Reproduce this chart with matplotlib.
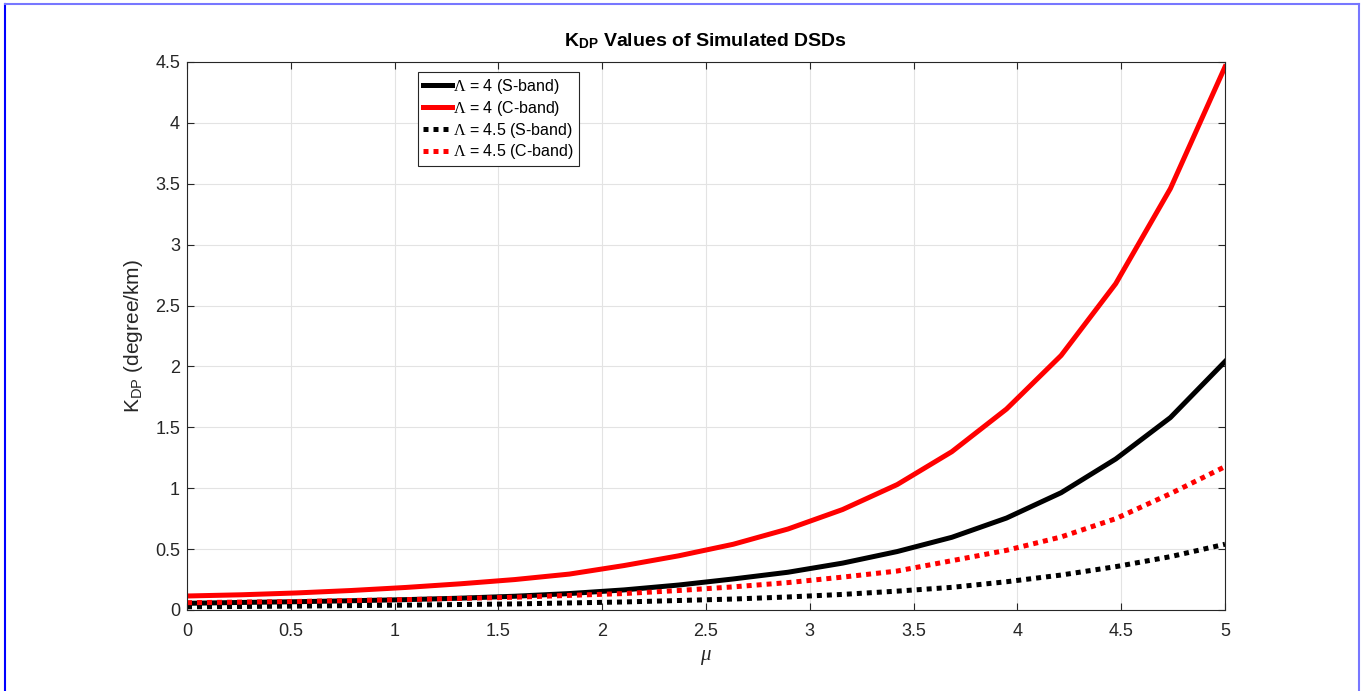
import numpy as np
import matplotlib
matplotlib.use('Agg')
import matplotlib.pyplot as plt
from matplotlib.lines import Line2D

plt.rcParams['font.family'] = ['Liberation Sans', 'DejaVu Sans']
plt.rcParams['mathtext.fontset'] = 'custom'
plt.rcParams['mathtext.rm'] = 'Liberation Serif'
plt.rcParams['mathtext.it'] = 'Liberation Serif:italic'
plt.rcParams['mathtext.bf'] = 'Liberation Sans:bold'
plt.rcParams['mathtext.sf'] = 'Liberation Sans'

# 数据
mu = np.linspace(0, 5, 20)
kdp_s_40 = [0.055, 0.062, 0.068, 0.076, 0.085, 0.097, 0.113, 0.135, 0.165, 0.205,
            0.255, 0.31, 0.385, 0.48, 0.597, 0.755, 0.963, 1.24, 1.58, 2.04]
kdp_c_40 = [0.115, 0.125, 0.14, 0.16, 0.185, 0.215, 0.25, 0.295, 0.365, 0.445,
            0.54, 0.665, 0.825, 1.03, 1.30, 1.65, 2.09, 2.68, 3.46, 4.46]
kdp_s_45 = [0.027, 0.029, 0.032, 0.036, 0.04, 0.045, 0.05, 0.058, 0.066, 0.078,
            0.09, 0.107, 0.128, 0.155, 0.186, 0.232, 0.287, 0.356, 0.438, 0.54]
kdp_c_45 = [0.06, 0.065, 0.07, 0.078, 0.085, 0.095, 0.105, 0.12, 0.135, 0.16,
            0.19, 0.225, 0.27, 0.32, 0.405, 0.49, 0.60, 0.75, 0.955, 1.177]
labels = [r'$\Lambda$ = 4 (S-band)', r'$\Lambda$ = 4 (C-band)',
          r'$\Lambda$ = 4.5 (S-band)', r'$\Lambda$ = 4.5 (C-band)']

fig = plt.figure(figsize=(13.68, 6.91), dpi=100)
ax = fig.add_axes([187/1368, 81/691, 1038/1368, 548/691])

lw = 3.6
ax.plot(mu, kdp_s_40, color='k', lw=lw, label=labels[0])
ax.plot(mu, kdp_c_40, color='r', lw=lw, label=labels[1])
ax.plot(mu, kdp_s_45, color='k', lw=lw, ls=(0, (1, 1)), dash_capstyle='butt', label=labels[2])
ax.plot(mu, kdp_c_45, color='r', lw=lw, ls=(0, (1, 1)), dash_capstyle='butt', label=labels[3])

ax.set_xlim(0, 5)
ax.set_ylim(0, 4.5)
ax.set_xticks(np.arange(0, 5.01, 0.5))
ax.set_yticks(np.arange(0, 4.51, 0.5))
ax.set_xticklabels(['0', '0.5', '1', '1.5', '2', '2.5', '3', '3.5', '4', '4.5', '5'])
ax.set_yticklabels(['0', '0.5', '1', '1.5', '2', '2.5', '3', '3.5', '4', '4.5'])
ax.grid(True, color='#e3e3e3', lw=0.8)
ax.set_axisbelow(True)
ax.tick_params(direction='in', top=True, right=True, length=5, width=0.8,
               labelsize=13, colors='#262626')
ax.tick_params(axis='x', pad=9)
ax.tick_params(axis='y', pad=5)
for s in ax.spines.values():
    s.set_color('#262626')
    s.set_linewidth(0.8)

ax.set_title(r'K$_{\mathbf{DP}}$ Values of Simulated DSDs', fontsize=14,
             fontweight='bold', pad=11)
ax.set_xlabel(r'$\mu$', fontsize=15, color='#262626', labelpad=6)
ax.set_ylabel(r'K$_{\mathsf{DP}}$ (degree/km)', fontsize=15, color='#262626', labelpad=7)

leg = ax.legend(loc='upper left', bbox_to_anchor=((418-187)/1038, (610-72)/548),
                borderaxespad=0, fontsize=11.5, fancybox=False, framealpha=1,
                edgecolor='#262626', handlelength=1.8, handletextpad=0.1,
                labelspacing=0.18, borderpad=0.3)
leg.get_frame().set_linewidth(0.8)

# 蓝色边框
fig.add_artist(Line2D([4.5/1368, 4.5/1368], [0, 1 - 3.5/691], color='#0000ff', lw=1.5))
fig.add_artist(Line2D([4.5/1368, 1359/1368], [1 - 3.5/691, 1 - 3.5/691], color='#7777ff', lw=1.5))
fig.add_artist(Line2D([1359/1368, 1359/1368], [0, 1 - 3.5/691], color='#7777ff', lw=1.5))

fig.savefig('out.png', dpi=100)
